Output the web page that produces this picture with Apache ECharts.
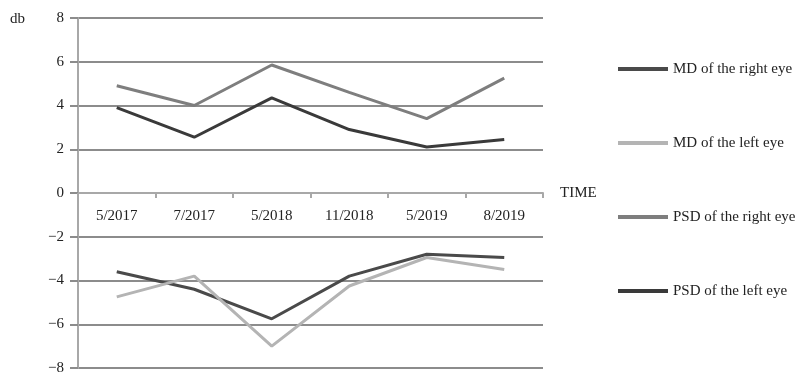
<!DOCTYPE html>
<html>
<head>
<meta charset="utf-8">
<style>
  html, body { margin: 0; padding: 0; background: #fff; }
  #chart { width: 798px; height: 373px; }
</style>
<script src="https://cdn.jsdelivr.net/npm/echarts@6/dist/echarts.min.js"></script>
</head>
<body>
<div id="chart"></div>
<script>
// Visit dates on the time axis
const categories = ['5/2017', '7/2017', '5/2018', '11/2018', '5/2019', '8/2019'];

// Y-axis range in dB
const yMin = -8;
const yMax = 8;
const yStep = 2;

// Visual field indices (dB)
const mdRight  = [-3.6, -4.4, -5.75, -3.8, -2.8, -2.95];
const mdLeft   = [-4.75, -3.8, -7.0, -4.25, -2.95, -3.5];
const psdRight = [4.9, 4.0, 5.85, 4.6, 3.4, 5.25];
const psdLeft  = [3.9, 2.55, 4.35, 2.9, 2.1, 2.45];

const seriesNames = ['MD of the right eye', 'MD of the left eye', 'PSD of the right eye', 'PSD of the left eye'];
const seriesColors = ['#4a4a4a', '#b4b4b4', '#7e7e7e', '#3a3a3a'];
const seriesData = [mdRight, mdLeft, psdRight, psdLeft];

const font = '"Liberation Serif", "DejaVu Serif", serif';
const fontSize = 15;

const gridTop = 18;
const gridBottom = 5;
const chartHeight = 373;

const chart = echarts.init(document.getElementById('chart'), null, { renderer: 'canvas' });

// distance from the grid's bottom edge up to the zero line, used to seat the date labels under it
const plotHeight = chartHeight - gridTop - gridBottom;
const zeroOffset = -plotHeight * (0 - yMin) / (yMax - yMin);

chart.setOption({
  animation: false,
  textStyle: { fontFamily: font, color: '#222' },
  grid: { left: 78, right: 255, top: gridTop, bottom: gridBottom, containLabel: false, outerBoundsMode: 'none' },
  legend: {
    orient: 'vertical',
    left: 613,
    top: 55,
    icon: 'rect',
    itemWidth: 50,
    itemHeight: 4,
    itemGap: 56,
    textStyle: { fontFamily: font, fontSize: fontSize, color: '#222', lineHeight: 18 },
    data: seriesNames
  },
  graphic: [{
    type: 'text',
    left: 10,
    top: 12,
    style: { text: 'db', font: fontSize + 'px ' + font, fill: '#222' }
  }],
  xAxis: [{
    type: 'category',
    data: categories,
    boundaryGap: true,
    name: 'TIME',
    nameLocation: 'end',
    nameGap: 17,
    nameTextStyle: { fontFamily: font, fontSize: fontSize, color: '#222' },
    axisLine: { onZero: true, lineStyle: { color: '#a8a8a8', width: 2 } },
    axisTick: { show: true, length: 5, lineStyle: { color: '#a8a8a8', width: 2 } },
    axisLabel: { show: false },
    splitLine: { show: false }
  }, {
    // label row for the dates, sitting just below the zero line
    type: 'category',
    data: categories,
    boundaryGap: true,
    position: 'bottom',
    offset: zeroOffset,
    axisLine: { show: false, onZero: false },
    axisTick: { show: false },
    axisLabel: { margin: 16, fontFamily: font, fontSize: fontSize, color: '#222' },
    splitLine: { show: false }
  }],
  yAxis: {
    type: 'value',
    min: yMin,
    max: yMax,
    interval: yStep,
    axisLine: { show: true, lineStyle: { color: '#a8a8a8', width: 2 } },
    axisTick: { show: true, length: 8, lineStyle: { color: '#8c8c8c', width: 2 } },
    axisLabel: {
      margin: 14,
      fontFamily: font,
      fontSize: fontSize,
      color: '#222',
      formatter: v => (v < 0 ? '\u2212' + Math.abs(v) : String(v))
    },
    splitLine: { show: true, lineStyle: { color: '#8c8c8c', width: 2 } }
  },
  series: seriesNames.map((name, i) => ({
    name,
    type: 'line',
    data: seriesData[i],
    xAxisIndex: 0,
    showSymbol: false,
    symbol: 'none',
    color: seriesColors[i],
    lineStyle: { width: 3, color: seriesColors[i] },
    z: 3
  }))
});
</script>
</body>
</html>
